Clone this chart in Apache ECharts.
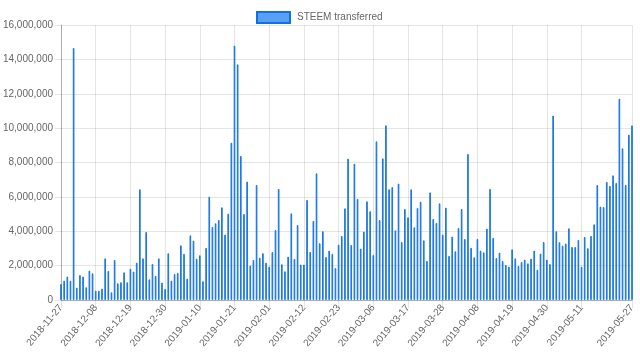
<!DOCTYPE html>
<html>
<head>
<meta charset="utf-8">
<script src="https://cdn.jsdelivr.net/npm/echarts@6/dist/echarts.min.js"></script>
<style>
html,body{margin:0;padding:0;background:#fff;}
#c{width:640px;height:361px;}
</style>
</head>
<body>
<div id="c"></div>
<script>
// Daily categories: 2018-11-27 .. 2019-05-27
var startDate = '2018-11-27';
var dayCount = 182;
var seriesName = 'STEEM transferred';
// Values in millions of STEEM
var valuesM = [
0.93,1.12,1.36,1.12,14.66,0.72,1.45,1.36,0.74,1.71,
1.55,0.54,0.54,0.66,2.42,1.69,0.45,2.33,0.97,1.03,
1.61,1.03,1.82,1.65,2.17,6.44,2.42,3.96,1.20,2.09,
1.40,2.42,1.01,0.64,2.72,1.12,1.51,1.57,3.18,2.68,
1.24,3.76,3.45,2.40,2.60,1.09,3.03,6.01,4.25,4.46,
4.65,5.39,3.80,5.02,9.15,14.80,13.71,8.38,5.00,6.89,
2.00,2.33,6.69,2.46,2.72,2.17,1.94,2.79,4.07,6.46,
2.08,1.67,2.52,5.04,2.39,4.36,2.06,2.06,5.82,2.79,
4.60,7.37,3.30,4.00,2.50,2.87,2.68,1.86,3.22,3.72,
5.33,8.22,3.20,7.93,5.88,2.99,3.98,5.74,5.16,2.62,
9.23,4.65,8.24,10.16,6.44,6.57,4.05,6.77,3.37,5.29,
4.81,6.44,4.23,5.35,5.72,3.47,2.27,6.26,4.71,4.48,
5.62,3.80,5.37,2.56,3.69,2.83,4.19,5.29,3.55,8.49,
3.03,2.48,3.55,2.87,2.77,4.15,6.46,3.61,2.44,2.75,
2.27,2.04,1.94,2.95,2.42,1.98,2.21,2.35,2.13,2.40,
2.87,1.76,2.70,3.37,2.35,2.09,10.73,4.00,3.36,3.16,
3.28,4.17,3.08,3.08,3.49,1.94,3.67,3.01,3.72,4.40,
6.69,5.43,5.41,6.87,6.63,7.25,6.81,11.71,8.82,6.69,
9.62,10.16
];
var yTicks = [0,2000000,4000000,6000000,8000000,10000000,12000000,14000000,16000000];

function pad(n){return n<10?'0'+n:''+n;}
var categories = [];
var d0 = new Date(startDate + 'T00:00:00Z');
for (var i = 0; i < dayCount; i++) {
  var d = new Date(d0.getTime() + i*86400000);
  categories.push(d.getUTCFullYear()+'-'+pad(d.getUTCMonth()+1)+'-'+pad(d.getUTCDate()));
}
var values = valuesM.map(function(v){return Math.round(v*1000000);});

function showTick(idx){ return (idx % 11 === 0 && idx <= 165) || idx === dayCount-1; }

var FONT = 'Liberation Sans, Arial, sans-serif';
var chart = echarts.init(document.getElementById('c'), null, {renderer:'canvas'});
chart.setOption({
  animation:false,
  textStyle:{fontFamily:FONT},
  legend:{
    top:6, left:251,
    itemWidth:33, itemHeight:11, icon:'rect', itemGap:10,
    textStyle:{color:'#666', fontSize:10, fontFamily:FONT, padding:[0,0,0,2]},
    data:[seriesName]
  },
  grid:{left:61, right:8, top:25, bottom:61, containLabel:false, outerBoundsMode:'none'},
  xAxis:{
    type:'category',
    data:categories,
    boundaryGap:false,
    axisLine:{show:true, lineStyle:{color:'rgba(0,0,0,0.25)', width:1}},
    axisTick:{show:true, length:8, interval:function(i){return showTick(i);}, lineStyle:{color:'rgba(0,0,0,0.1)'}},
    splitLine:{show:true, interval:function(i){return showTick(i);}, lineStyle:{color:'rgba(0,0,0,0.1)', width:1}},
    axisLabel:{
      interval:function(i){return showTick(i);},
      rotate:50, color:'#666', fontSize:10, margin:6, fontFamily:FONT
    }
  },
  yAxis:{
    type:'value', min:0, max:16000000, interval:2000000,
    axisLine:{show:true, lineStyle:{color:'rgba(0,0,0,0.25)'}},
    axisTick:{show:true, length:6, lineStyle:{color:'rgba(0,0,0,0.1)'}},
    splitLine:{show:true, lineStyle:{color:'rgba(0,0,0,0.1)'}},
    axisLabel:{
      color:'#666', fontSize:10, margin:8, fontFamily:FONT,
      formatter:function(v){return v.toLocaleString('en-US');}
    }
  },
  series:[{
    name:seriesName,
    type:'bar',
    data:values,
    barWidth:1.6,
    itemStyle:{color:'rgba(70,150,245,0.9)', borderColor:'#1170e4', borderWidth:0.9}
  }]
});
</script>
</body>
</html>
